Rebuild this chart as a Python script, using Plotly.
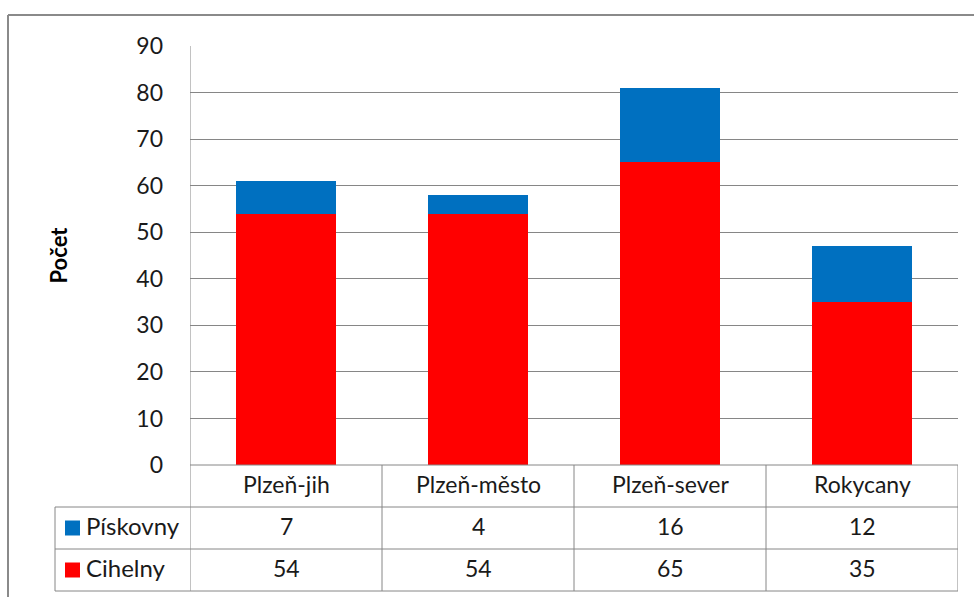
import plotly.graph_objects as go

# Data
districts = ["Plzeň-jih", "Plzeň-město", "Plzeň-sever", "Rokycany"]
piskovny = [7, 4, 16, 12]
cihelny = [54, 54, 65, 35]
series_names = ["Pískovny", "Cihelny"]
series_colors = ["#0070C0", "#FF0000"]
y_ticks = [0, 10, 20, 30, 40, 50, 60, 70, 80, 90]

W, H = 974, 597
FONT = "Lato"
GRID = "#868686"
TXT = "#1a1a1a"
FS = 23


def px(x):
    return x / W


def py(y):
    return 1 - y / H


# plot area in pixels
PL, PR, PT, PB = 190, 958, 46, 465
# table rows (pixel y of boundaries)
ROW_Y = [465, 507, 549, 591]
TABLE_L = 55

fig = go.Figure()
fig.add_trace(go.Bar(x=list(range(len(districts))), y=cihelny, name=series_names[1],
                     marker=dict(color=series_colors[1], line=dict(width=0))))
fig.add_trace(go.Bar(x=list(range(len(districts))), y=piskovny, name=series_names[0],
                     marker=dict(color=series_colors[0], line=dict(width=0))))

shapes = []
# outer chart border
shapes.append(dict(type="line", xref="paper", yref="paper", x0=px(8), x1=px(8), y0=py(15), y1=0,
                   line=dict(color="#8a8a8a", width=2)))
shapes.append(dict(type="line", xref="paper", yref="paper", x0=px(8), x1=1, y0=py(15), y1=py(15),
                   line=dict(color="#8a8a8a", width=2)))

# data table: horizontal lines
shapes.append(dict(type="line", xref="x", yref="paper", x0=-0.5, x1=len(districts) - 0.5,
                   y0=py(ROW_Y[0]), y1=py(ROW_Y[0]), line=dict(color=GRID, width=1)))
for yy in ROW_Y[1:]:
    shapes.append(dict(type="line", xref="paper", yref="paper", x0=px(TABLE_L), x1=px(PR),
                       y0=py(yy), y1=py(yy), line=dict(color=GRID, width=1)))
# vertical lines
shapes.append(dict(type="line", xref="paper", yref="paper", x0=px(TABLE_L), x1=px(TABLE_L),
                   y0=py(ROW_Y[1]), y1=py(ROW_Y[3]), line=dict(color=GRID, width=1)))
for i in range(len(districts) + 1):
    shapes.append(dict(type="line", xref="x", yref="paper", x0=i - 0.5, x1=i - 0.5,
                       y0=py(ROW_Y[0] if i else PT), y1=py(ROW_Y[3]), line=dict(color=GRID, width=1)))

annotations = []
row_vals = [piskovny, cihelny]
SHIFT = -round(0.6 * FS)
for i, d in enumerate(districts):
    annotations.append(dict(x=i, y=py((ROW_Y[0] + ROW_Y[1]) / 2), xref="x", yref="paper", text=d,
                            showarrow=False, yshift=SHIFT,
                            font=dict(family=FONT, size=FS, color=TXT)))
    for r, vals in enumerate(row_vals):
        annotations.append(dict(x=i, y=py((ROW_Y[r + 1] + ROW_Y[r + 2]) / 2), xref="x", yref="paper",
                                text=str(vals[i]), showarrow=False, yshift=SHIFT,
                                font=dict(family=FONT, size=FS, color=TXT)))

# legend keys inside table
for r, (name, col) in enumerate(zip(series_names, series_colors)):
    yc = (ROW_Y[r + 1] + ROW_Y[r + 2]) / 2
    shapes.append(dict(type="rect", xref="paper", yref="paper", x0=px(65), x1=px(80),
                       y0=py(yc + 7.5), y1=py(yc - 7.5), fillcolor=col, line=dict(width=0)))
    annotations.append(dict(x=px(84), y=py(yc), xref="paper", yref="paper", text=name,
                            xanchor="left", showarrow=False, yshift=-round(0.6 * 24),
                            font=dict(family=FONT, size=24, color=TXT)))

# y-axis title
annotations.append(dict(x=px(43), y=py(255), xref="paper", yref="paper", text="<b>Počet</b>",
                        textangle=-90, showarrow=False, font=dict(family=FONT, size=22, color="black")))

fig.update_layout(
    width=W, height=H,
    margin=dict(l=0, r=0, t=0, b=0, autoexpand=False),
    paper_bgcolor="white", plot_bgcolor="white",
    barmode="stack", bargap=0.484,
    showlegend=False,
    shapes=shapes, annotations=annotations,
    xaxis=dict(domain=[px(PL), px(PR)], range=[-0.5, len(districts) - 0.5],
               showticklabels=False, showgrid=False, zeroline=False, showline=False, ticks=""),
    yaxis=dict(domain=[py(PB), py(PT)], range=[0, 90], tickvals=y_ticks,
               showgrid=True, gridcolor=GRID, gridwidth=1, zeroline=False, showline=False,
               ticks="", ticklabelstandoff=26,
               tickfont=dict(family=FONT, size=FS, color=TXT)),
)

fig.write_html("out.html")
